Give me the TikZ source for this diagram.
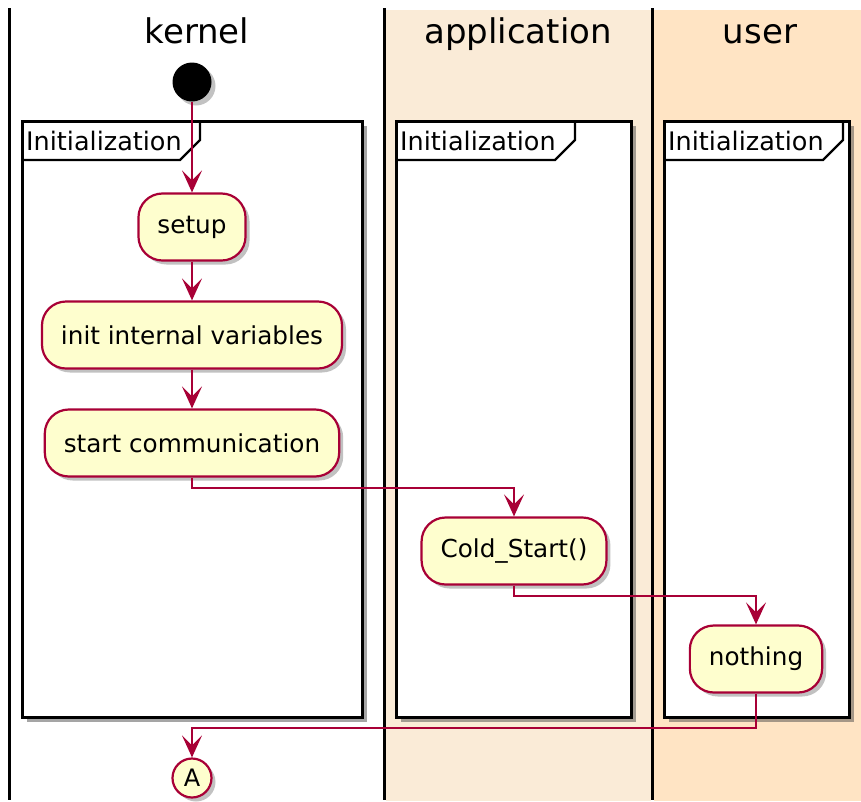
\documentclass[tikz,border=0pt]{standalone}
\usepackage{fontspec}
\setmainfont{DejaVu Sans}
\usetikzlibrary{arrows.meta,shadows,positioning}
\definecolor{umlred}{HTML}{A80036}
\definecolor{umlbox}{HTML}{FEFECE}
\definecolor{appbg}{HTML}{FAEBD7}
\definecolor{userbg}{HTML}{FFE4C4}
\tikzset{boxshadow/.style={drop shadow={shadow xshift=4pt,shadow yshift=-4pt,opacity=.4,fill=black!60}}}

\begin{document}
\begin{tikzpicture}[x=1pt, y=-1pt]

\tikzset{action/.style={font=\fontsize{24.7}{29}\selectfont,draw=umlred,line width=2.2pt,fill=umlbox,rounded corners=24pt,minimum height=67pt,inner xsep=19pt,boxshadow},
flow/.style={umlred,line width=2.2pt,-{Stealth[length=22pt,width=20pt,inset=10pt]}},
lanetitle/.style={font=\fontsize{34}{40}\selectfont,anchor=base},
frame/.style={line width=3pt,fill=white,drop shadow={shadow xshift=5pt,shadow yshift=-5pt,opacity=.5,fill=black!70}},
framelabel/.style={font=\fontsize{25.5}{30}\selectfont,anchor=base west,inner sep=0pt}}

\useasboundingbox (0,0) rectangle (861,801);

% Lanes
\fill[appbg] (386,10) rectangle (651,801);
\fill[userbg] (654,10) rectangle (861,801);
\foreach \x in {9, 384, 652} \draw[line width=3pt] (\x,8) -- (\x,800);
\node[lanetitle] (kernelT) at (197,43) {kernel};
\node[lanetitle] (applicationT) at (518,43) {application};
\node[lanetitle] (userT) at (760,43) {user};

% Frames
\foreach \l/\r/\t in {22/362/180, 396/631/555, 664/849/823} {
  \draw[frame] (\l,121) rectangle (\r,717);
  \draw[line width=2.4pt] (\l,160) -- (\t,160) -- (\t+20,140) -- (\t+20,121);
  \node[framelabel] at (\l+4,150) {Initialization};
}

% Nodes
\node[circle,fill=black,minimum size=39pt,inner sep=0pt,boxshadow] (start) at (192,82) {};
\node[action] (setup) at (192,227) {setup};
\node[action] (initvars) at (192,335) {init internal variables};
\node[action] (startcomm) at (192,443) {start communication};
\node[action] (coldstart) at (514,551) {Cold\_Start()};
\node[action] (nothing) at (756,659) {nothing};
\node[circle,draw=umlred,line width=2.2pt,fill=umlbox,minimum size=39pt,inner sep=0pt,font=\fontsize{24}{28}\selectfont,boxshadow] (connA) at (192,778) {A};

% Flow
\draw[flow] (start) -- (setup);
\draw[flow] (setup) -- (initvars);
\draw[flow] (initvars) -- (startcomm);
\draw[flow] (startcomm.south) -- ++(0,10) -| (coldstart.north);
\draw[flow] (coldstart.south) -- ++(0,10) -| (nothing.north);
\draw[flow] (nothing.south) -- ++(0,34) -| (connA.north);

\end{tikzpicture}
\end{document}
